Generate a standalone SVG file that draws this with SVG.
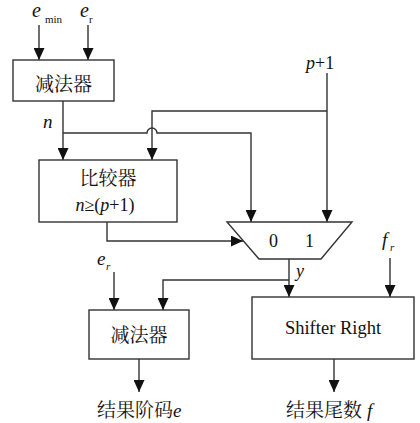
<svg xmlns="http://www.w3.org/2000/svg" width="420" height="423" viewBox="0 0 420 423">
<style>
.box{fill:#fff;stroke:#333;stroke-width:1.4}
.ln{fill:none;stroke:#333;stroke-width:1.4}
.t{font-family:"Liberation Serif","Times New Roman","DejaVu Serif",serif;fill:#111}
.cjk{font-family:"Noto Serif CJK SC","Noto Sans CJK SC",serif;fill:#111}
.i{font-style:italic}
</style>
<defs>
<marker id="ar" markerUnits="userSpaceOnUse" markerWidth="12" markerHeight="11" refX="12" refY="5.5" orient="auto">
<path d="M0,0 L12,5.5 L0,11 z" fill="#111"/>
</marker>
</defs>
<rect width="420" height="423" fill="#fff"/>
<g id="connectors">
<path class="ln" d="M39,25 V60" marker-end="url(#ar)"/>
<path class="ln" d="M88,25 V60" marker-end="url(#ar)"/>
<path class="ln" d="M63,101 V160" marker-end="url(#ar)"/>
<path class="ln" d="M63,133 H147 A5,5 0 0 1 157,133 H251 V222" marker-end="url(#ar)"/>
<path class="ln" d="M327,73 V222" marker-end="url(#ar)"/>
<path class="ln" d="M327,111 H152 V160" marker-end="url(#ar)"/>
<path class="ln" d="M107,222 V241 H243" marker-end="url(#ar)"/>
<path class="ln" d="M289,259 V297" marker-end="url(#ar)"/>
<path class="ln" d="M289,280 H163 V310" marker-end="url(#ar)"/>
<path class="ln" d="M390,258 V297" marker-end="url(#ar)"/>
<path class="ln" d="M114,272 V310" marker-end="url(#ar)"/>
<path class="ln" d="M139,359 V392" marker-end="url(#ar)"/>
<path class="ln" d="M334,359 V392" marker-end="url(#ar)"/>
</g>
<g id="inputs-top">
<text class="t i" x="32" y="17" font-size="20">e</text>
<text class="t" x="45" y="23" font-size="11">min</text>
<text class="t i" x="80" y="17" font-size="20">e</text>
<text class="t" x="89" y="23" font-size="11">r</text>
</g>
<g id="sub1">
<rect class="box" x="13" y="60" width="101" height="41"/>
<text class="cjk" x="63.5" y="91" font-size="19" text-anchor="middle">减法器</text>
</g>
<text id="lbl-n" class="t i" x="43" y="128" font-size="19">n</text>
<text id="lbl-p1" class="t" x="306" y="69" font-size="18"><tspan class="i">p</tspan>+1</text>
<g id="comparator">
<rect class="box" x="39" y="160" width="138" height="62"/>
<text class="cjk" x="108" y="185" font-size="19" text-anchor="middle">比较器</text>
<text class="t" x="105" y="211" font-size="18" text-anchor="middle"><tspan class="i">n</tspan>≥(<tspan class="i">p</tspan>+1)</text>
</g>
<g id="mux">
<polygon class="box" points="227,222 352,222 321,259 259,259"/>
<text class="t" x="269" y="247" font-size="18">0</text>
<text class="t" x="305" y="247" font-size="18">1</text>
</g>
<text id="lbl-y" class="t i" x="296" y="277" font-size="18">y</text>
<g id="lbl-fr">
<text class="t i" x="382" y="246" font-size="19">f</text>
<text class="t i" x="390" y="251" font-size="11">r</text>
</g>
<g id="lbl-er2">
<text class="t i" x="97" y="265" font-size="19">e</text>
<text class="t i" x="106" y="270" font-size="11">r</text>
</g>
<g id="sub2">
<rect class="box" x="89" y="310" width="100" height="49"/>
<text class="cjk" x="139" y="342" font-size="19" text-anchor="middle">减法器</text>
</g>
<g id="shifter">
<rect class="box" x="252" y="297" width="162" height="62"/>
<text class="t" x="333" y="334" font-size="18.5" text-anchor="middle">Shifter Right</text>
</g>
<text id="out-e" class="cjk" x="97" y="417" font-size="19">结果阶码<tspan class="t i">e</tspan></text>
<text id="out-f" class="cjk" x="286" y="417" font-size="19">结果尾数 <tspan class="t i">f</tspan></text>
</svg>
